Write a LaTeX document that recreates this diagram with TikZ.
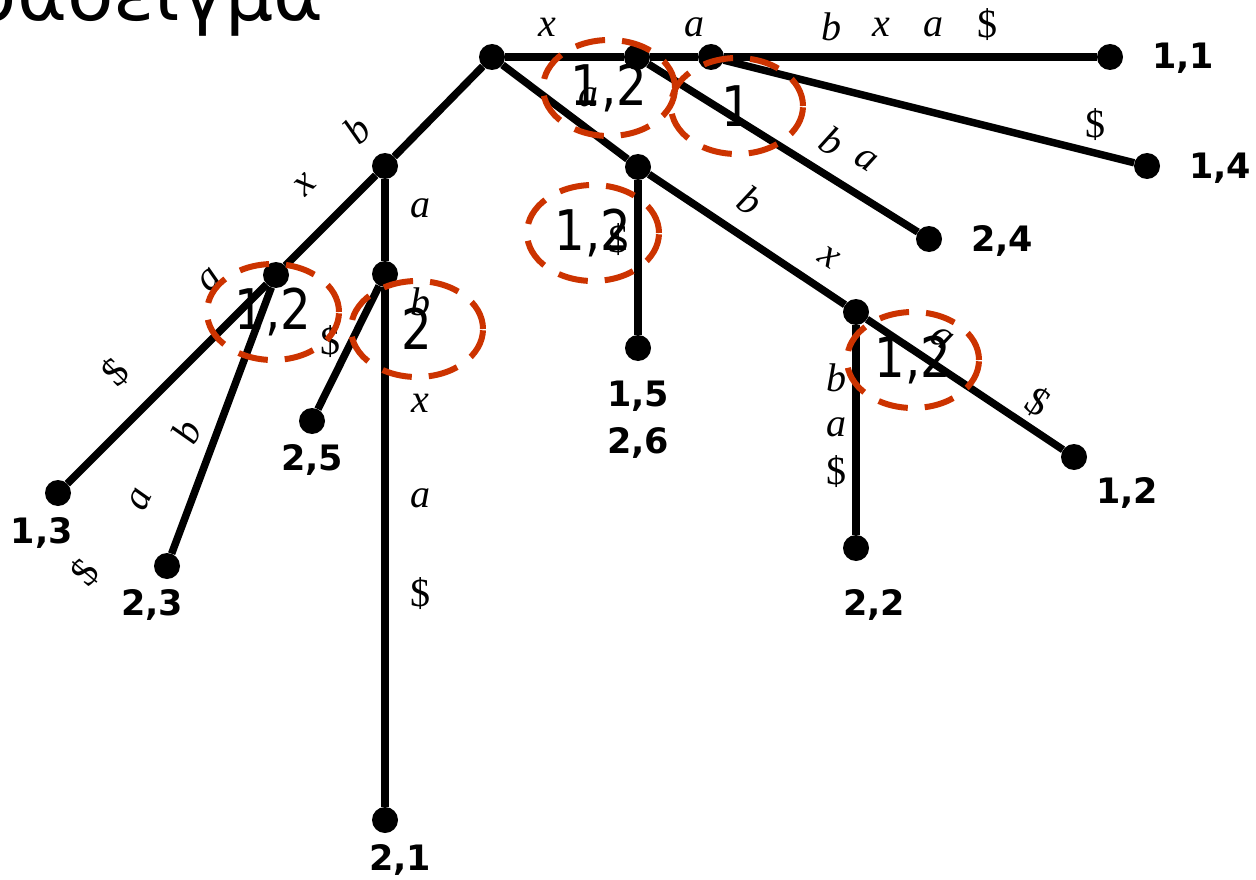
\documentclass[tikz,border=0pt]{standalone}
\usepackage{fontspec}
\setmainfont{DejaVu Sans}
\newfontfamily\tms{Liberation Serif}
\usetikzlibrary{shapes.geometric}
\definecolor{hl}{HTML}{CC3300}
\newcommand{\cnt}[1]{\scalebox{0.86}[1]{#1}}
\tikzset{
 edge/.style={line width=7.5pt},
 dot/.style={circle, fill=black, inner sep=0pt, minimum size=26pt},
 leaf/.style={font=\fontsize{35}{47}\selectfont\bfseries, inner sep=0pt, align=center},
 lbl/.style={font=\tms\itshape\fontsize{40}{44}\selectfont, inner sep=0pt},
 dlr/.style={font=\tms\fontsize{40}{44}\selectfont, inner sep=0pt},
 ell/.style={ellipse, draw=hl, line width=6pt, dash pattern=on 30pt off 17pt,
   minimum width=132pt, minimum height=96pt, inner sep=0pt, font=\fontsize{56}{60}\selectfont},
 ttl/.style={font=\fontsize{76}{80}\selectfont, inner sep=0pt, anchor=base west}
}
\begin{document}
\begin{tikzpicture}[x=1pt,y=-1pt]
\useasboundingbox (0,0) rectangle (1256,880);
% title (cut by the top edge)
\node[ttl] (title) at (17,21) {\llap{Παρ}άδειγμα};
% nodes
\node[dot] (R) at (492,57) {};
\node[dot] (A) at (637,57) {};
\node[dot] (B) at (711,57) {};
\node[dot] (L11) at (1110,57) {};
\node[dot] (L14) at (1147,166) {};
\node[dot] (L24) at (929,239) {};
\node[dot] (C) at (638,167) {};
\node[dot] (D) at (856,312) {};
\node[dot] (L12) at (1074,457) {};
\node[dot] (L15) at (638,348) {};
\node[dot] (L22) at (856,548) {};
\node[dot] (E) at (385,166) {};
\node[dot] (F) at (276,275) {};
\node[dot] (L13) at (58,493) {};
\node[dot] (G) at (385,274) {};
\node[dot] (L21) at (385,820) {};
\node[dot] (L25) at (312,421) {};
\node[dot] (L23) at (167,566) {};
% edges
\draw[edge] (R) -- (A);
\draw[edge] (A) -- (B);
\draw[edge] (B) -- (L11);
\draw[edge] (B) -- (L14);
\draw[edge] (A) -- (L24);
\draw[edge] (R) -- (C);
\draw[edge] (C) -- (D);
\draw[edge] (D) -- (L12);
\draw[edge] (C) -- (L15);
\draw[edge] (D) -- (L22);
\draw[edge] (R) -- (E);
\draw[edge] (E) -- (F);
\draw[edge] (F) -- (L13);
\draw[edge] (E) -- (G);
\draw[edge] (G) -- (L21);
\draw[edge] (G) -- (L25);
\draw[edge] (F) -- (L23);
% leaf labels
\node[leaf] (t11) at (1183,58) {1,1};
\node[leaf] (t14) at (1220,168) {1,4};
\node[leaf] (t24) at (1002,241) {2,4};
\node[leaf] (t12) at (1127,493) {1,2};
\node[leaf] (t22) at (874,605) {2,2};
\node[leaf] (t15) at (638,420) {1,5\\2,6};
\node[leaf] (t13) at (42,533) {1,3};
\node[leaf] (t23) at (152,605) {2,3};
\node[leaf] (t25) at (312,460) {2,5};
\node[leaf] (t21) at (400,860) {2,1};
% edge letters
\node[lbl] (e1) at (547,27) {x};
\node[lbl] (e2) at (694,27) {a};
\node[lbl] (e3) at (831,27) {b};
\node[lbl] (e4) at (881,27) {x};
\node[lbl] (e5) at (933,27) {a};
\node[dlr] (e6) at (987,25) {\$};
\node[dlr] (e7) at (1095,125) {\$};
\node[lbl,rotate=-32] (e8) at (832,141) {b};
\node[lbl,rotate=-32] (e9) at (866,160) {a};
\node[lbl] (e10) at (588,97) {a};
\node[lbl,rotate=-33] (e11) at (750,200) {b};
\node[lbl,rotate=-33] (e12) at (829,258) {x};
\node[dlr] (e13) at (618,240) {\$};
\node[lbl,rotate=-33] (e14) at (942,338) {a};
\node[dlr,rotate=-33] (e15) at (1038,402) {\$};
\node[lbl] (e16) at (836,378) {b};
\node[lbl] (e17) at (836,427) {a};
\node[dlr] (e18) at (836,472) {\$};
\node[lbl,rotate=45] (e19) at (357,130) {b};
\node[lbl,rotate=45] (e20) at (305,185) {x};
\node[lbl,rotate=45] (e21) at (210,280) {a};
\node[dlr,rotate=45] (e22) at (115,372) {\$};
\node[lbl,rotate=65] (e23) at (186,432) {b};
\node[lbl,rotate=65] (e24) at (140,500) {a};
\node[dlr,rotate=50] (e25) at (85,573) {\$};
\node[lbl] (e26) at (420,208) {a};
\node[lbl] (e27) at (420,302) {b};
\node[lbl] (e28) at (420,403) {x};
\node[lbl] (e29) at (420,498) {a};
\node[dlr] (e30) at (420,594) {\$};
\node[dlr] (e31) at (330,342) {\$};
% highlighted counts
\node[ell] (c1) at (609,88) {\cnt{1,2}};
\node[ell] (c2) at (737,106) {\cnt{1}};
\node[ell] (c3) at (593,233) {\cnt{1,2}};
\node[ell] (c4) at (273,312) {\cnt{1,2}};
\node[ell] (c5) at (417,329) {\cnt{2}};
\node[ell] (c6) at (913,360) {\cnt{1,2}};
\end{tikzpicture}
\end{document}
